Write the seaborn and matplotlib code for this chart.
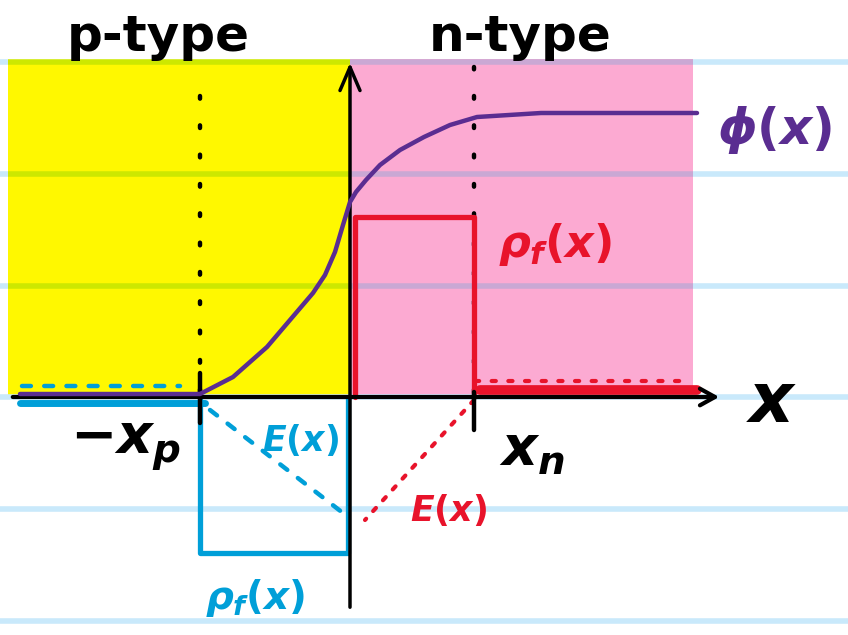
import numpy as np
import pandas as pd
import matplotlib
matplotlib.use("Agg")
import matplotlib.pyplot as plt
import seaborn as sns

# p-n junction sketch: potential, free charge density and field

# junction edges
xp = 1.50
xn = 1.24

# potential phi(x)
phi_x = [-3.30, -1.50, -1.17, -0.83, -0.60, -0.37, -0.25, -0.15, -0.07, 0.00, 0.06, 0.16, 0.30, 0.50, 0.74, 1.00, 1.27, 1.91, 3.47]
phi_y = [0.03, 0.03, 0.20, 0.50, 0.77, 1.04, 1.22, 1.45, 1.72, 1.95, 2.05, 2.17, 2.32, 2.47, 2.60, 2.72, 2.80, 2.84, 2.84]

# free charge density
rho_p = -1.56
rho_n = 1.80

# electric field
E_peak = -1.20
E_p_tail_x = [-3.28, -1.70]
E_n_tail_x = [1.25, 3.40]

# notebook ruling and shaded regions
rule_y = [3.35, 2.23, 1.11, 0.0, -1.12, -2.24]
p_region = [-3.42, 0.0]
n_region = [0.0, 3.43]
region_top = 3.36

YELLOW = "#fff800"
PINK = "#fcaad2"
PURPLE = "#5a2d91"
RED = "#e8132b"
BLUE = "#009fd8"
RULE = "#c9e9fb"
RULE_Y = "#cde800"
RULE_P = "#caa8d4"

sns.set_theme(style="white")
plt.rcParams["font.family"] = ["DejaVu Sans"]
plt.rcParams["text.color"] = "black"
plt.rcParams["mathtext.fontset"] = "custom"
plt.rcParams["mathtext.rm"] = "DejaVu Sans:bold"
plt.rcParams["mathtext.it"] = "DejaVu Sans:italic:bold"
plt.rcParams["mathtext.bf"] = "DejaVu Sans:bold"

fig = plt.figure(figsize=(8.48, 6.35), dpi=100)
ax = fig.add_axes([0, 0, 1, 1])
ax.set_xlim(-3.5, 4.98)
ax.set_ylim(-2.38, 3.97)
ax.axis("off")

# shaded regions
ax.fill_between(p_region, 0, region_top, color=YELLOW, lw=0, zorder=1)
ax.fill_between(n_region, 0, region_top + 0.02, color=PINK, lw=0, zorder=1)

# ruled lines (tinted where they cross the shading)
for y in rule_y:
    if 0 < y < region_top:
        ax.hlines(y, -3.5, p_region[0], color=RULE, lw=4, zorder=2)
        ax.hlines(y, p_region[0], 0, color=RULE_Y, lw=4, zorder=2)
        ax.hlines(y, 0, n_region[1], color=RULE_P, lw=4, zorder=2)
        ax.hlines(y, n_region[1], 4.98, color=RULE, lw=4, zorder=2)
    else:
        ax.hlines(y, -3.5, 4.98, color=RULE, lw=4, zorder=2)

# axes arrows
ax.annotate("", xy=(3.72, 0), xytext=(-3.40, 0),
            arrowprops=dict(arrowstyle="->,head_length=0.9,head_width=0.5", color="black", lw=3),
            zorder=6)
ax.annotate("", xy=(0.0, 3.37), xytext=(0.0, -2.13),
            arrowprops=dict(arrowstyle="->,head_length=1.4,head_width=0.6", color="black", lw=2.5),
            zorder=6)

# depletion edges
ax.plot([-xp, -xp], [0.05, 3.07], color="black", lw=3.2, ls=(0, (0.6, 6)),
        dash_capstyle="round", zorder=4)
ax.plot([-xp, -xp], [0.24, -0.26], color="black", lw=3.2, solid_capstyle="round", zorder=6)
ax.plot([xn, xn], [0.05, 3.30], color="black", lw=3.2, ls=(0, (0.6, 6)),
        dash_capstyle="round", zorder=4)
ax.plot([xn, xn], [0.05, -0.33], color="black", lw=3.2, solid_capstyle="round", zorder=6)

# charge density (n side, red)
ax.plot([0.05, 0.05, xn, xn], [0, rho_n, rho_n, 0], color=RED, lw=3.8, zorder=5)
ax.plot([xn + 0.06, 3.47], [0.07, 0.07], color=RED, lw=7, solid_capstyle="round", zorder=5)

# charge density (p side, blue)
ax.plot([-xp, -xp, -0.02, -0.02], [0, rho_p, rho_p, 0], color=BLUE, lw=3.8, zorder=5)
ax.plot([-3.30, -xp + 0.05], [-0.06, -0.06], color=BLUE, lw=5, solid_capstyle="round", zorder=5)

# electric field
ax.plot(E_p_tail_x, [0.11, 0.11], color=BLUE, lw=3.2, ls=(0, (2, 3)),
        dash_capstyle="round", zorder=5)
ax.plot([-xp + 0.10, -0.07], [-0.13, E_peak + 0.04], color=BLUE, lw=3.2, ls=(0, (2, 3)),
        dash_capstyle="round", zorder=5)
ax.plot(E_n_tail_x, [0.16, 0.16], color=RED, lw=3.0, ls=(0, (1, 3)),
        dash_capstyle="round", zorder=5)
ax.plot([xn, 0.15], [-0.03, E_peak - 0.03], color=RED, lw=3.0, ls=(0, (1, 2.5)),
        dash_capstyle="round", zorder=5)

# potential
df = pd.DataFrame({"x": phi_x, "phi": phi_y})
sns.lineplot(data=df, x="x", y="phi", color=PURPLE, lw=3.2, ax=ax, zorder=7, sort=False)
ax.axis("off")

# labels
ax.text(-1.92, 3.60, "p-type", fontsize=36, fontweight="bold", color="black", ha="center", va="center")
ax.text(1.70, 3.60, "n-type", fontsize=36, fontweight="bold", color="black", ha="center", va="center")
ax.text(4.25, 2.67, r"$\phi(x)$", fontsize=36, color=PURPLE, ha="center", va="center")
ax.text(2.05, 1.52, r"$\rho_f(x)$", fontsize=32, color=RED, ha="center", va="center", zorder=8)
ax.text(-0.50, -0.43, r"$E(x)$", fontsize=25, color=BLUE, ha="center", va="center")
ax.text(-0.95, -2.01, r"$\rho_f(x)$", fontsize=28, color=BLUE, ha="center", va="center")
ax.text(0.98, -1.13, r"$E(x)$", fontsize=25, color=RED, ha="center", va="center")
ax.text(-2.25, -0.48, r"$-x_p$", fontsize=40, color="black", ha="center", va="center")
ax.text(1.82, -0.53, r"$x_n$", fontsize=40, color="black", ha="center", va="center")
ax.text(4.22, -0.06, r"$x$", fontsize=50, color="black", ha="center", va="center")

fig.savefig("out.png", dpi=100)
